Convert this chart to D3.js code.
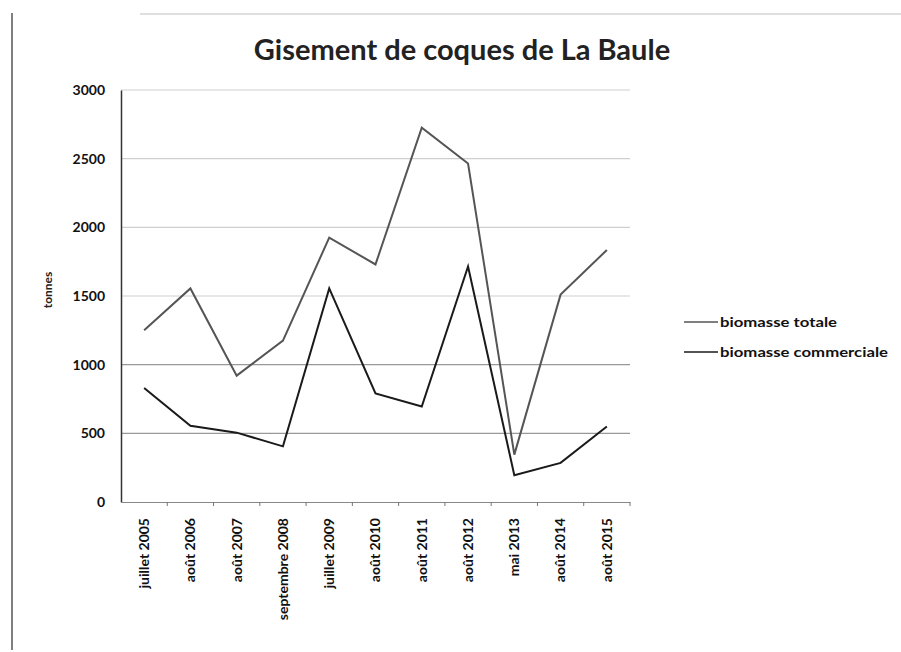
<!DOCTYPE html>
<html><head><meta charset="utf-8">
<script src="https://cdn.jsdelivr.net/npm/d3@7"></script>
<style>body{margin:0;background:#fff}svg{display:block}</style>
</head><body>
<script>
const categories = ["juillet 2005","août 2006","août 2007","septembre 2008","juillet 2009","août 2010","août 2011","août 2012","mai 2013","août 2014","août 2015"];
const totale = [1250,1555,920,1175,1925,1730,2725,2465,345,1510,1835];
const commerciale = [830,555,505,405,1555,790,695,1715,195,285,550];
const yTicks = [0,500,1000,1500,2000,2500,3000];
const seriesNames = ["biomasse totale","biomasse commerciale"];

const W=901,H=652;
const svg=d3.select("body").append("svg").attr("width",W).attr("height",H);
const font="Lato, 'Open Sans', sans-serif";

// frame lines
svg.append("line").attr("x1",12).attr("x2",12).attr("y1",13).attr("y2",650).attr("stroke","#555").attr("stroke-width",1.5);
svg.append("line").attr("x1",140).attr("x2",901).attr("y1",14).attr("y2",14).attr("stroke","#d4d4d4").attr("stroke-width",1.5);

const x=d3.scaleBand().domain(categories).range([121,630]);
const y=d3.scaleLinear().domain([0,3000]).range([502,90]);

// gridlines
svg.append("g").selectAll("line").data(yTicks.filter(d=>d>0)).join("line")
  .attr("x1",121).attr("x2",630).attr("y1",d=>y(d)).attr("y2",d=>y(d))
  .attr("stroke",d=>d<=1000?"#999":"#cfcfcf").attr("stroke-width",1.2);

// y axis
const ya=svg.append("g").attr("transform","translate(121,0)").call(d3.axisLeft(y).tickValues(yTicks).tickFormat(d3.format("d")).tickSize(0).tickPadding(16));
ya.select(".domain").attr("stroke","#333").attr("stroke-width",1.5);
ya.selectAll("text").attr("font-family",font).attr("font-weight","bold").attr("font-size",14).attr("fill","#111");

// x axis
const xa=svg.append("g").attr("transform","translate(0,502)").call(d3.axisBottom(x).tickSize(0));
xa.select(".domain").attr("stroke","#888").attr("stroke-width",1.2);
xa.selectAll("text").attr("font-family",font).attr("font-weight","bold").attr("font-size",14).attr("fill","#111")
  .attr("transform","rotate(-90)").attr("text-anchor","end").attr("dx","-16px").attr("dy","0.35em").attr("x",0).attr("y",0);
// tick marks at band boundaries
const bounds=categories.map((c,i)=>i===0?null:x(c)).filter(v=>v!==null).concat([x.range()[1]]);
svg.append("g").selectAll("line").data(bounds).join("line")
  .attr("x1",d=>d).attr("x2",d=>d).attr("y1",502).attr("y2",506).attr("stroke","#777");

// title
svg.append("text").attr("x",462).attr("y",60).attr("text-anchor","middle").attr("font-family",font)
  .attr("font-weight","bold").attr("font-size",29).attr("fill","#222").text("Gisement de coques de La Baule");
// y label
svg.append("text").attr("transform","translate(52,290) rotate(-90)").attr("text-anchor","middle").attr("font-family",font)
  .attr("font-weight","bold").attr("font-size",12).attr("fill","#222").text("tonnes");

const line=d3.line().x((d,i)=>x(categories[i])+x.bandwidth()/2).y(d=>y(d));
const colors=["#555","#1a1a1a"];
[totale,commerciale].forEach((s,k)=>{
  svg.append("path").datum(s).attr("d",line).attr("fill","none").attr("stroke",colors[k]).attr("stroke-width",2);
});

// legend
seriesNames.forEach((n,k)=>{
  const ly=322+k*30;
  svg.append("line").attr("x1",684).attr("x2",718).attr("y1",ly).attr("y2",ly).attr("stroke",colors[k]).attr("stroke-width",1.5);
  svg.append("text").attr("x",720).attr("y",ly).attr("dy","0.35em").attr("font-family",font).attr("font-weight","bold")
    .attr("font-size",14).attr("fill","#111").attr("textLength",k===0?117:168).attr("lengthAdjust","spacingAndGlyphs").text(n);
});
</script>
</body></html>
